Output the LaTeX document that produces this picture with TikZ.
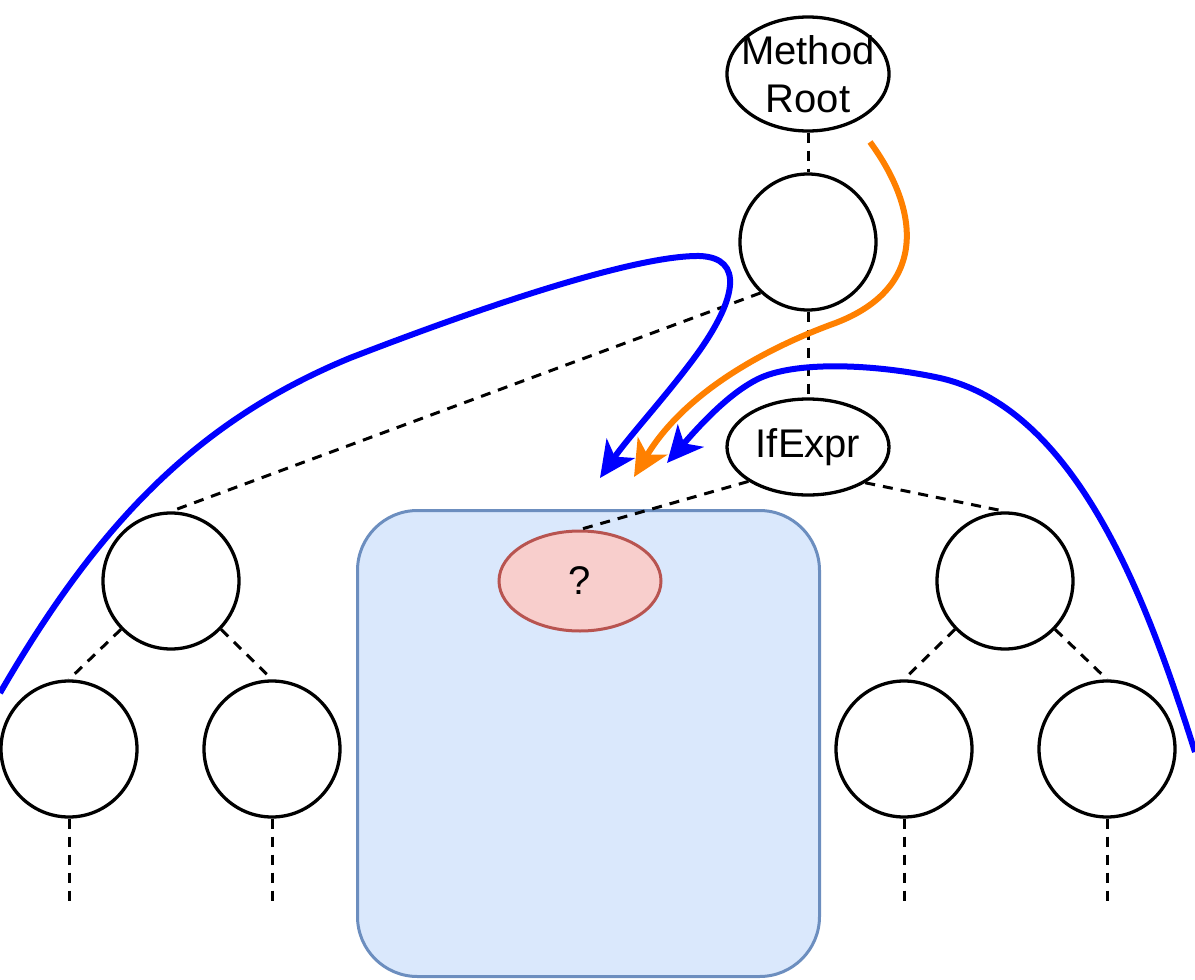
\documentclass[tikz,border=0pt]{standalone}
\usepackage{fontspec}
\setmainfont{Liberation Sans}
\usetikzlibrary{arrows.meta,shapes.geometric}
\definecolor{boxfill}{HTML}{DAE8FC}
\definecolor{boxdraw}{HTML}{6C8EBF}
\definecolor{holefill}{HTML}{F8CECC}
\definecolor{holedraw}{HTML}{B85450}
\definecolor{flowblue}{HTML}{0000FF}
\definecolor{floworange}{HTML}{FF8000}
\tikzset{
  treenode/.style={circle,draw=black,line width=3.3pt,minimum size=136pt,inner sep=0pt},
  labelnode/.style={ellipse,draw=black,line width=3.3pt,inner sep=-20pt,
    font=\fontsize{40}{48}\selectfont,align=center},
  treeedge/.style={draw=black,line width=3pt,dash pattern=on 10pt off 8pt},
  flow/.style={line width=6pt,
    -{Stealth[length=36pt,width=34pt,inset=10pt]}},
}
\begin{document}
\begin{tikzpicture}[x=1pt,y=-1pt]
\useasboundingbox (0,0) rectangle (1195,980);

% region holding the missing subtree
\node[draw=boxdraw,fill=boxfill,line width=3pt,rounded corners=60pt,
  minimum width=462pt,minimum height=466pt,inner sep=0pt] (region) at (588.5,743.5) {};

% tree nodes
\node[labelnode,minimum width=162pt,minimum height=114pt] (root) at (808,74) {Method\\Root};
\node[treenode] (body) at (808,242) {};
\node[labelnode,minimum width=162pt,minimum height=96pt] (ifexpr) at (808,447) {IfExpr};
\node[ellipse,draw=holedraw,fill=holefill,line width=3pt,inner sep=0pt,
  minimum width=162pt,minimum height=100pt,font=\fontsize{40}{48}\selectfont] (hole) at (580,581) {?};

\node[treenode] (left) at (171,581) {};
\node[treenode] (leftA) at (69,749) {};
\node[treenode] (leftB) at (272,749) {};
\node[treenode] (right) at (1005,581) {};
\node[treenode] (rightA) at (904,749) {};
\node[treenode] (rightB) at (1107,749) {};

% continuation marks below the leaves
\coordinate (leftAend) at (69,905);
\coordinate (leftBend) at (272,905);
\coordinate (rightAend) at (904,905);
\coordinate (rightBend) at (1107,905);

% tree edges
\draw[treeedge] (root.south) -- (body.north);
\draw[treeedge] (body.south) -- (ifexpr.north);
\draw[treeedge] (body.-133) -- (left.north);
\draw[treeedge] (ifexpr.-150) -- (hole.north);
\draw[treeedge] (ifexpr.-32) -- (right.north);
\draw[treeedge] (left.-136) -- (leftA.north);
\draw[treeedge] (left.-44) -- (leftB.north);
\draw[treeedge] (right.-136) -- (rightA.north);
\draw[treeedge] (right.-44) -- (rightB.north);
\draw[treeedge] (leftA.south) -- (leftAend);
\draw[treeedge] (leftB.south) -- (leftBend);
\draw[treeedge] (rightA.south) -- (rightAend);
\draw[treeedge] (rightB.south) -- (rightBend);

% flow arrows
\coordinate (blueLstart) at (0,693);
\coordinate (blueLtip) at (600,478);
\coordinate (orangestart) at (870,142);
\coordinate (orangetip) at (634,477);
\coordinate (blueRstart) at (1195,752);
\coordinate (blueRtip) at (667,463);

\draw[flow,flowblue] (blueLstart)
  .. controls (100,520) and (200,420) .. (350,358)
  .. controls (500,300) and (640,255) .. (700,256)
  .. controls (745,258) and (735,300) .. (700,350)
  .. controls (670,392) and (630,435) .. (blueLtip);
\draw[flow,floworange] (orangestart)
  .. controls (920,210) and (930,290) .. (830,325)
  .. controls (750,355) and (680,400) .. (orangetip);
\draw[flow,flowblue] (blueRstart)
  .. controls (1150,610) and (1080,410) .. (940,378)
  .. controls (880,365) and (800,360) .. (760,378)
  .. controls (730,392) and (700,425) .. (blueRtip);
\end{tikzpicture}
\end{document}
